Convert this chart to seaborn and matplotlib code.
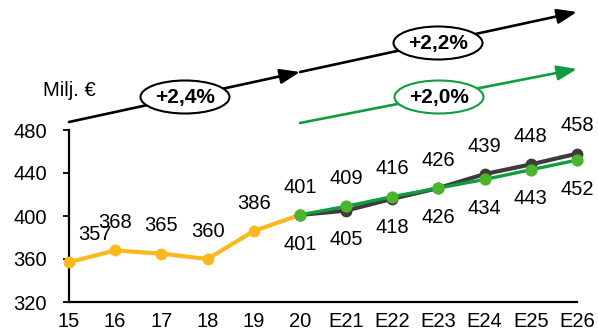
import matplotlib
matplotlib.use("Agg")
import matplotlib.pyplot as plt
from matplotlib.patches import Ellipse, FancyArrowPatch
import seaborn as sns
import pandas as pd

# Categories (years) and series values, Milj. €
years = ["15", "16", "17", "18", "19", "20", "E21", "E22", "E23", "E24", "E25", "E26"]
history = [357, 368, 365, 360, 386, 401]
forecast_gray = [401, 405, 416, 426, 439, 448, 458]
forecast_green = [401, 409, 418, 426, 434, 443, 452]
upper_labels = [409, 416, 426, 439, 448, 458]
lower_labels = [405, 418, 426, 434, 443, 452]
growth_labels = ["+2,4%", "+2,2%", "+2,0%"]
y_ticks = [320, 360, 400, 440, 480]

YELLOW = "#fdb81e"
GRAY = "#3e3c3b"
GREEN_LINE = "#119c3f"
GREEN_DOT = "#4db52d"

sns.set_theme(style="white")
plt.rcParams["font.family"] = ["Liberation Sans", "DejaVu Sans"]
plt.rcParams["text.color"] = "black"
plt.rcParams["axes.labelcolor"] = "black"
plt.rcParams["xtick.color"] = "black"
plt.rcParams["ytick.color"] = "black"
FS = 14.5

W, H = 598, 332
fig = plt.figure(figsize=(W / 100, H / 100), dpi=100)
ax = fig.add_axes([69 / W, 1 - 302 / H, (577 - 69) / W, (302 - 130) / H])

hist_df = pd.DataFrame({"x": range(len(history)), "y": history})
start = len(history) - 1
gray_df = pd.DataFrame({"x": range(start, start + len(forecast_gray)), "y": forecast_gray})
green_df = pd.DataFrame({"x": range(start, start + len(forecast_green)), "y": forecast_green})

sns.lineplot(data=hist_df, x="x", y="y", ax=ax, color=YELLOW, linewidth=3,
             marker="o", markersize=8.5, markeredgewidth=0, clip_on=False, zorder=3)
sns.lineplot(data=gray_df, x="x", y="y", ax=ax, color=GRAY, linewidth=3,
             marker="o", markersize=8.5, markeredgewidth=0, clip_on=False, zorder=4)
sns.lineplot(data=green_df, x="x", y="y", ax=ax, color=GREEN_LINE, linewidth=2.4,
             marker="o", markersize=8.8, markerfacecolor=GREEN_DOT,
             markeredgewidth=0, clip_on=False, zorder=5)

# Value labels for the historical series
for i, v in enumerate(history[:-1]):
    dx = 19 if i == 0 else 0
    ax.annotate(str(v), (i, v), xytext=(dx, 20), textcoords="offset points",
                ha="center", va="center", fontsize=FS, color="black")
ax.annotate(str(history[-1]), (start, history[-1]), xytext=(0, 20),
            textcoords="offset points", ha="center", va="center", fontsize=FS,
            color="black")
ax.annotate(str(forecast_gray[0]), (start, forecast_gray[0]), xytext=(0, -21),
            textcoords="offset points", ha="center", va="center", fontsize=FS,
            color="black")

# Value labels for the two forecast scenarios
for k, (up, lo) in enumerate(zip(upper_labels, lower_labels)):
    i = start + 1 + k
    top = max(forecast_gray[k + 1], forecast_green[k + 1])
    bot = min(forecast_gray[k + 1], forecast_green[k + 1])
    ax.annotate(str(up), (i, top), xytext=(0, 20), textcoords="offset points",
                ha="center", va="center", fontsize=FS, color="black")
    ax.annotate(str(lo), (i, bot), xytext=(0, -21), textcoords="offset points",
                ha="center", va="center", fontsize=FS, color="black")

ax.set_xlim(0, len(years) - 1)
ax.set_ylim(y_ticks[0], y_ticks[-1])
ax.set_xticks(range(len(years)))
ax.set_xticklabels(years)
ax.set_yticks(y_ticks)
ax.set_xlabel("")
ax.set_ylabel("")
ax.tick_params(axis="x", length=0, pad=7, labelsize=FS, colors="black")
ax.tick_params(axis="y", length=4.5, width=1.3, direction="out", left=True,
               pad=11.5, labelsize=FS, colors="black")
sns.despine(ax=ax)
for side in ("left", "bottom"):
    ax.spines[side].set_color("black")
    ax.spines[side].set_linewidth(1.6)
ax.grid(False)


def fpos(x, y):
    return (x / W, 1 - y / H)


# Unit caption
fig.text(*fpos(69.5, 90), "Milj. €", ha="center", va="center", fontsize=FS,
         color="black")

# Growth arrows
arrows = [((69, 122), (300, 72), "black"),
          ((300, 72), (577, 12), "black"),
          ((300, 123), (577, 69), GREEN_LINE)]
for (p0, p1, c) in arrows:
    fig.add_artist(FancyArrowPatch(fpos(*p0), fpos(*p1), transform=fig.transFigure,
                                   arrowstyle="-|>,head_length=1.2,head_width=0.45",
                                   mutation_scale=10, linewidth=1.9, color=c,
                                   shrinkA=0, shrinkB=0))

# Growth-rate badges
badges = [((185, 97), "black"), ((438, 43), "black"), ((439, 97), GREEN_LINE)]
for (center, edge), label in zip(badges, growth_labels):
    fig.add_artist(Ellipse(fpos(*center), 89 / W, 33 / H, transform=fig.transFigure,
                           facecolor="white", edgecolor=edge, linewidth=1.5, zorder=5))
    fig.text(*fpos(*center), label, ha="center", va="center", fontsize=15,
             fontweight="bold", color="black", zorder=6)

fig.savefig("out.png", dpi=100)
